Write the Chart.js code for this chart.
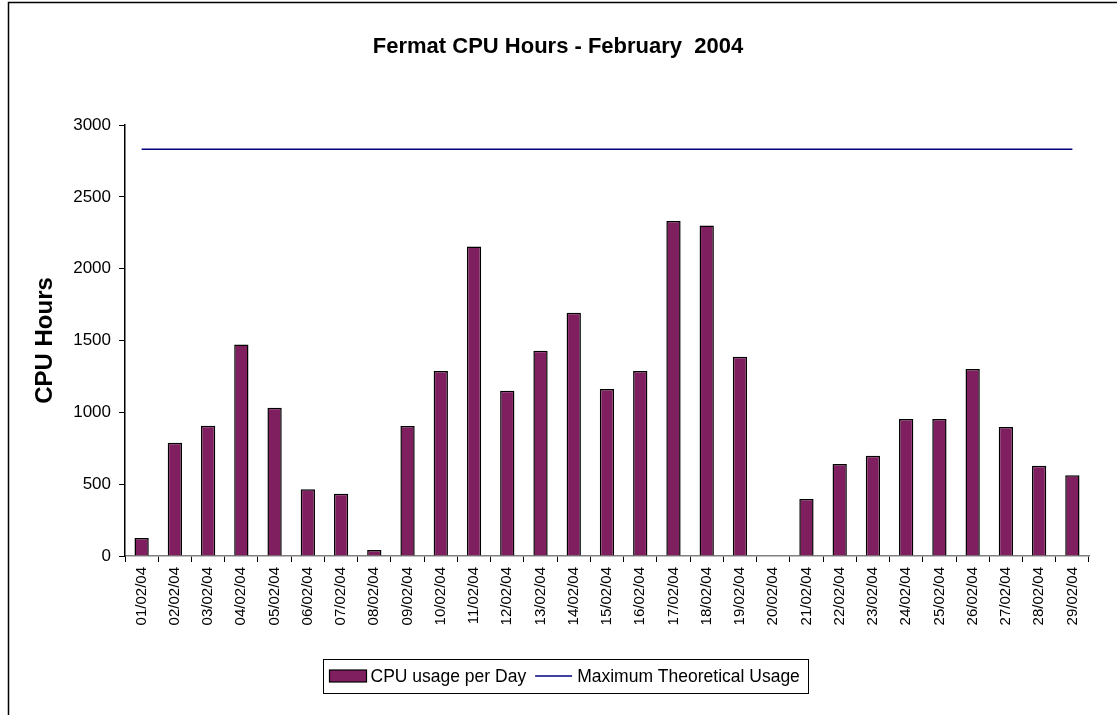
<!DOCTYPE html>
<html>
<head>
<meta charset="utf-8">
<script src="https://cdn.jsdelivr.net/npm/chart.js@4.4.1/dist/chart.umd.min.js"></script>
<style>
  html, body { margin: 0; padding: 0; background: #ffffff; }
  #wrap { position: relative; width: 1117px; height: 715px; }
  canvas { display: block; }
</style>
</head>
<body>
<div id="wrap"><canvas id="c" width="1117" height="715"></canvas></div>
<script>
const chartTitle = 'Fermat CPU Hours - February  2004';
const yAxisTitle = 'CPU Hours';
const days = ['01/02/04','02/02/04','03/02/04','04/02/04','05/02/04','06/02/04','07/02/04','08/02/04','09/02/04','10/02/04',
              '11/02/04','12/02/04','13/02/04','14/02/04','15/02/04','16/02/04','17/02/04','18/02/04','19/02/04','20/02/04',
              '21/02/04','22/02/04','23/02/04','24/02/04','25/02/04','26/02/04','27/02/04','28/02/04','29/02/04'];
const cpuUsagePerDay = [125, 789, 907, 1473, 1032, 464, 434, 42, 905, 1288,
                        2155, 1151, 1429, 1694, 1162, 1288, 2332, 2301, 1387, 0,
                        397, 640, 698, 954, 954, 1302, 898, 629, 562];
const maxTheoreticalUsage = [2832, 2832, 2832, 2832, 2832, 2832, 2832, 2832, 2832, 2832,
                             2832, 2832, 2832, 2832, 2832, 2832, 2832, 2832, 2832, 2832,
                             2832, 2832, 2832, 2832, 2832, 2832, 2832, 2832, 2832];
const yTicks = [0, 500, 1000, 1500, 2000, 2500, 3000];
const seriesNames = ['CPU usage per Day', 'Maximum Theoretical Usage'];

const FONT = '"Liberation Sans", Arial, Helvetica, sans-serif';
const BAR_COLOR = '#801f5f';
const LINE_COLOR = '#000080';

const framePlugin = {
  id: 'frame',
  beforeDraw(chart) {
    const ctx = chart.ctx;
    ctx.save();
    ctx.fillStyle = '#ffffff';
    ctx.fillRect(0, 0, chart.width, chart.height);
    ctx.strokeStyle = '#000000';
    ctx.lineWidth = 1.5;
    ctx.strokeRect(8.5, 2.5, 1300, 900);
    ctx.restore();
  },
  afterDraw(chart) {
    const ctx = chart.ctx;
    ctx.save();
    // title
    ctx.fillStyle = '#000000';
    ctx.font = 'bold 22px ' + FONT;
    ctx.textAlign = 'center';
    ctx.textBaseline = 'alphabetic';
    ctx.fillText(chartTitle, 558, 53);

    // legend (bar series first, then line series)
    const barDs = chart.data.datasets.find(d => d.type === 'bar');
    const lineDs = chart.data.datasets.find(d => d.type === 'line');
    ctx.font = '17.5px ' + FONT;
    const w1 = ctx.measureText(barDs.label).width;
    const w2 = ctx.measureText(lineDs.label).width;
    const sw = 37;
    const total = 6 + sw + 4 + w1 + 9 + sw + 5 + w2 + 9;
    const bx = Math.round(565.5 - total / 2) + 0.5;
    const by = 659.5, bh = 34;
    ctx.strokeStyle = '#000000';
    ctx.lineWidth = 1;
    ctx.strokeRect(bx, by, Math.round(total), bh);
    let x = bx + 6;
    const cy = 676;
    ctx.fillStyle = barDs.backgroundColor;
    ctx.fillRect(x, cy - 6, sw, 12);
    ctx.lineWidth = 1.2;
    ctx.strokeRect(x, cy - 6, sw, 12);
    x += sw + 4;
    ctx.fillStyle = '#000000';
    ctx.textAlign = 'left';
    ctx.textBaseline = 'middle';
    ctx.fillText(barDs.label, x, cy + 1);
    x += w1 + 9;
    ctx.strokeStyle = lineDs.borderColor;
    ctx.lineWidth = 1.5;
    ctx.beginPath();
    ctx.moveTo(x, cy);
    ctx.lineTo(x + sw, cy);
    ctx.stroke();
    x += sw + 5;
    ctx.fillText(lineDs.label, x, cy + 1);
    ctx.restore();
  }
};

new Chart(document.getElementById('c'), {
  type: 'bar',
  data: {
    labels: days,
    datasets: [
      {
        type: 'line',
        label: seriesNames[1],
        data: maxTheoreticalUsage,
        borderColor: LINE_COLOR,
        backgroundColor: LINE_COLOR,
        borderWidth: 1.5,
        pointRadius: 0,
        fill: false,
        order: 0
      },
      {
        type: 'bar',
        label: seriesNames[0],
        data: cpuUsagePerDay,
        backgroundColor: BAR_COLOR,
        borderColor: '#000000',
        borderWidth: 1.5,
        borderSkipped: 'bottom',
        barPercentage: 0.43,
        categoryPercentage: 1.0,
        order: 1
      }
    ]
  },
  options: {
    responsive: false,
    animation: false,
    devicePixelRatio: 1,
    layout: { padding: { top: 125, right: 28, left: 20, bottom: 0 } },
    plugins: {
      legend: { display: false },
      title: { display: false },
      tooltip: { enabled: false }
    },
    scales: {
      x: {
        grid: { display: true, drawOnChartArea: false, drawTicks: true, tickLength: 6, color: '#000000', offset: true },
        border: { display: true, color: '#808080', width: 1.5 },
        ticks: {
          color: '#000000',
          font: { family: FONT, size: 15 },
          autoSkip: false,
          minRotation: 90,
          maxRotation: 90,
          padding: 5
        },
        afterFit(scale) { scale.height = 159; }
      },
      y: {
        min: 0,
        max: 3000,
        afterBuildTicks(scale) { scale.ticks = yTicks.map(v => ({ value: v })); },
        grid: { display: true, drawOnChartArea: false, drawTicks: true, tickLength: 6, color: '#000000' },
        border: { display: true, color: '#000000', width: 1.5 },
        ticks: {
          color: '#000000',
          font: { family: FONT, size: 17 },
          padding: 8,
          callback: (v) => String(v)
        },
        title: {
          display: true,
          text: yAxisTitle,
          color: '#000000',
          font: { family: FONT, size: 24, weight: 'bold' },
          padding: { top: 11, bottom: 0 }
        },
        afterFit(scale) { scale.width = 105; }
      }
    }
  },
  plugins: [framePlugin]
});
</script>
</body>
</html>
